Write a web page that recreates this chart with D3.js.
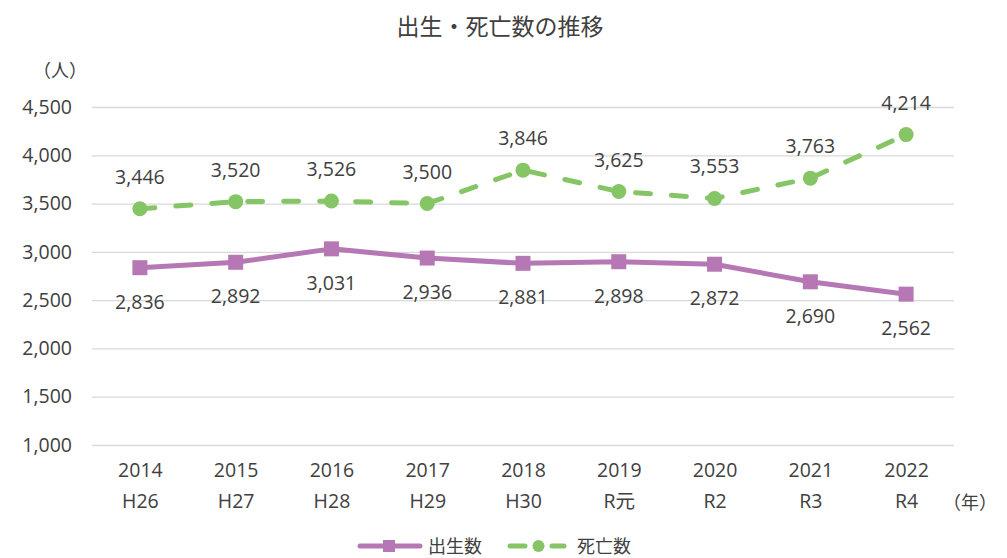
<!DOCTYPE html>
<html>
<head>
<meta charset="utf-8">
<script src="https://cdn.jsdelivr.net/npm/d3@7"></script>
<style>
  body { margin: 0; background: #fff; }
  svg text { font-family: "Open Sans", "Noto Sans CJK JP", sans-serif; fill: #404040; }
  svg text.jp { font-family: "Noto Sans CJK JP", sans-serif; }
</style>
</head>
<body>
<svg id="chart"></svg>
<script>
const years = ['2014', '2015', '2016', '2017', '2018', '2019', '2020', '2021', '2022'];
const eras = ['H26', 'H27', 'H28', 'H29', 'H30', 'R元', 'R2', 'R3', 'R4'];
const births = [2836, 2892, 3031, 2936, 2881, 2898, 2872, 2690, 2562];
const deaths = [3446, 3520, 3526, 3500, 3846, 3625, 3553, 3763, 4214];
const yTicks = [1000, 1500, 2000, 2500, 3000, 3500, 4000, 4500];

const width = 1007;
const height = 558;
const margin = { top: 107, right: 53, bottom: 113, left: 92 };
const plotWidth = width - margin.left - margin.right;
const plotHeight = height - margin.top - margin.bottom;

const birthColour = '#b678b4';
const deathColour = '#86c565';
const labelSize = 19.5;

const svg = d3.select('#chart')
    .attr('width', width)
    .attr('height', height);

// title
svg.append('text')
    .attr('class', 'jp')
    .attr('x', 500)
    .attr('y', 35)
    .attr('text-anchor', 'middle')
    .attr('font-size', 23)
    .text('出生・死亡数の推移');

svg.append('text')
    .attr('class', 'jp')
    .attr('x', 60)
    .attr('y', 77)
    .attr('text-anchor', 'middle')
    .attr('font-size', 18)
    .text('（人）');

const container = svg.append('g')
    .attr('transform', `translate(${margin.left},${margin.top})`);

const xScale = d3.scalePoint()
    .domain(years)
    .range([0, plotWidth])
    .padding(0.5);

const yScale = d3.scaleLinear()
    .domain([1000, 4500])
    .range([plotHeight, 0]);

// grid + y labels
const yAxis = d3.axisLeft(yScale)
    .tickValues(yTicks)
    .tickFormat(d3.format(','))
    .tickSize(-plotWidth)
    .tickPadding(20);

container.append('g')
    .attr('class', 'y axis')
    .call(yAxis)
    .call(g => g.select('.domain').remove())
    .call(g => g.selectAll('line').attr('stroke', '#d9d9d9').attr('stroke-width', 1.3))
    .call(g => g.selectAll('text')
      .attr('font-size', labelSize)
      .attr('font-family', null)
      .attr('fill', '#404040'));

// x labels, two rows
const xAxis = d3.axisBottom(xScale)
    .tickSize(0)
    .tickPadding(0)
    .tickFormat(() => '');

const xg = container.append('g')
    .attr('class', 'x axis')
    .attr('transform', `translate(0,${plotHeight})`)
    .call(xAxis)
    .call(g => g.select('.domain').remove());

xg.selectAll('.tick').append('text')
    .attr('y', 32)
    .attr('text-anchor', 'middle')
    .attr('font-size', labelSize)
    .text(d => d);

xg.selectAll('.tick').append('text')
    .attr('y', 63)
    .attr('text-anchor', 'middle')
    .attr('font-size', labelSize)
    .text((d, i) => eras[i]);

svg.append('text')
    .attr('class', 'jp')
    .attr('x', 970)
    .attr('y', 509)
    .attr('text-anchor', 'middle')
    .attr('font-size', 18)
    .text('（年）');

// lines
const lineFor = values => d3.line()
    .x((d, i) => xScale(years[i]))
    .y(d => yScale(d))(values);

container.append('path')
    .attr('d', lineFor(deaths))
    .attr('fill', 'none')
    .attr('stroke', deathColour)
    .attr('stroke-width', 5)
    .attr('stroke-linecap', 'round')
    .attr('stroke-dasharray', '15 21');

container.append('path')
    .attr('d', lineFor(births))
    .attr('fill', 'none')
    .attr('stroke', birthColour)
    .attr('stroke-width', 5)
    .attr('stroke-linejoin', 'round');

container.selectAll('.death-dot')
    .data(deaths)
  .enter().append('circle')
    .attr('cx', (d, i) => xScale(years[i]))
    .attr('cy', d => yScale(d))
    .attr('r', 7.5)
    .attr('fill', deathColour);

container.selectAll('.birth-sq')
    .data(births)
  .enter().append('rect')
    .attr('x', (d, i) => xScale(years[i]) - 7.5)
    .attr('y', d => yScale(d) - 7.5)
    .attr('width', 15)
    .attr('height', 15)
    .attr('fill', birthColour);

// data labels
container.selectAll('.death-label')
    .data(deaths)
  .enter().append('text')
    .attr('x', (d, i) => xScale(years[i]))
    .attr('y', d => yScale(d) - 25)
    .attr('text-anchor', 'middle')
    .attr('font-size', labelSize)
    .text(d3.format(','));

container.selectAll('.birth-label')
    .data(births)
  .enter().append('text')
    .attr('x', (d, i) => xScale(years[i]))
    .attr('y', d => yScale(d) + 41)
    .attr('text-anchor', 'middle')
    .attr('font-size', labelSize)
    .text(d3.format(','));

// legend
const legend = svg.append('g')
    .attr('transform', `translate(0,${546})`);

legend.append('line')
    .attr('x1', 360).attr('x2', 420)
    .attr('stroke', birthColour).attr('stroke-width', 5).attr('stroke-linecap', 'round');
legend.append('rect')
    .attr('x', 383).attr('y', -6).attr('width', 12).attr('height', 12)
    .attr('fill', birthColour);
legend.append('text')
    .attr('class', 'jp')
    .attr('x', 428).attr('y', 7)
    .attr('font-size', 18)
    .text('出生数');

legend.append('line')
    .attr('x1', 510).attr('x2', 564)
    .attr('stroke', deathColour).attr('stroke-width', 5).attr('stroke-linecap', 'round')
    .attr('stroke-dasharray', '15 27');
legend.append('circle')
    .attr('cx', 538.5).attr('r', 6)
    .attr('fill', deathColour);
legend.append('text')
    .attr('class', 'jp')
    .attr('x', 577).attr('y', 7)
    .attr('font-size', 18)
    .text('死亡数');
</script>
</body>
</html>
